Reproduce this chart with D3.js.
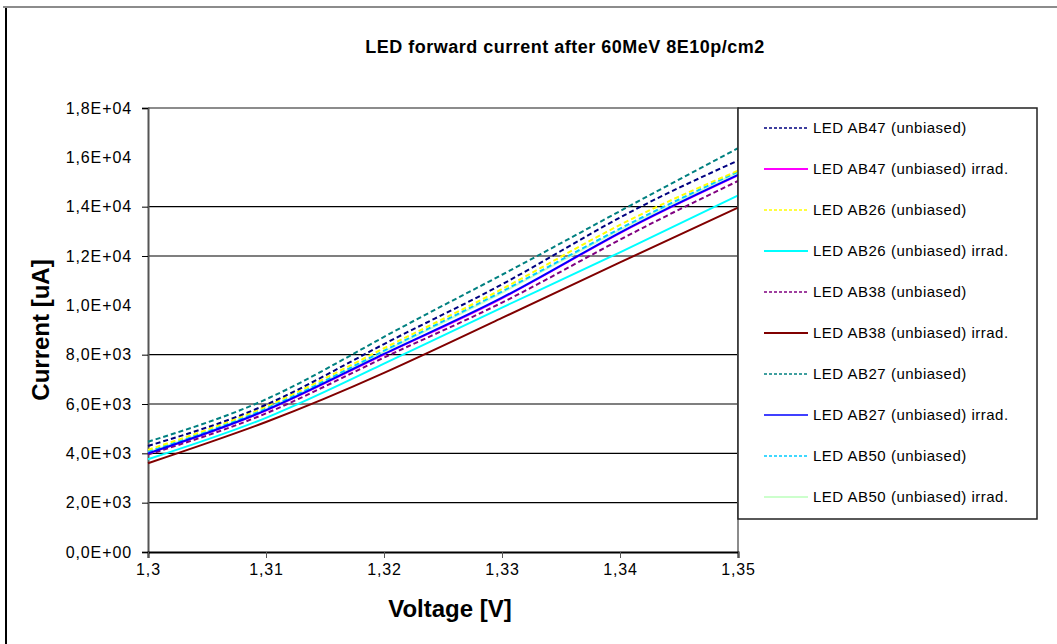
<!DOCTYPE html>
<html>
<head>
<meta charset="utf-8">
<script src="https://cdn.jsdelivr.net/npm/d3@7"></script>
<style>
  body { margin: 0; background: #fff; }
  svg { display: block; font-family: "Liberation Sans", Arial, sans-serif; }
</style>
</head>
<body>
<svg width="1057" height="644"></svg>
<script>
// voltage points (V)
var voltages = [1.30, 1.31, 1.32, 1.33, 1.34, 1.35];

// current readings (uA) per LED
var ab47 = [4300, 5970, 8430, 10850, 13560, 15870];
var ab47Irr = [3980, 5730, 8000, 10280, 12920, 15260];
var ab26 = [4140, 5900, 8260, 10660, 13260, 15460];
var ab26Irr = [3760, 5440, 7640, 9910, 12150, 14450];
var ab38 = [3950, 5620, 7880, 10110, 12660, 15040];
var ab38Irr = [3600, 5270, 7260, 9490, 11740, 13960];
var ab27 = [4000, 5750, 8030, 10310, 12950, 15290];
var ab27Unb = [4470, 6190, 8720, 11240, 13820, 16370];
var ab50 = [4070, 5820, 8160, 10560, 13110, 15420];
var ab50Irr = [4050, 5790, 8120, 10510, 13060, 15380];

var seriesNames = [
  "LED AB47 (unbiased)", "LED AB47 (unbiased) irrad.",
  "LED AB26 (unbiased)", "LED AB26 (unbiased) irrad.",
  "LED AB38 (unbiased)", "LED AB38 (unbiased) irrad.",
  "LED AB27 (unbiased)", "LED AB27 (unbiased) irrad.",
  "LED AB50 (unbiased)", "LED AB50 (unbiased) irrad."
];
var seriesValues = [ab47, ab47Irr, ab26, ab26Irr, ab38, ab38Irr, ab27Unb, ab27, ab50, ab50Irr];
var seriesColors = ["#000080", "#ff00ff", "#ffff00", "#00ffff", "#800080",
                    "#800000", "#008080", "#0000ff", "#00ccff", "#ccffcc"];
var seriesDashed = [true, false, true, false, true, false, true, false, true, false];
var seriesWidths = [2, 1.6, 2, 2, 2, 2, 2, 2, 2, 2];

var xTicks = [1.30, 1.31, 1.32, 1.33, 1.34, 1.35];
var yTicks = [0, 2000, 4000, 6000, 8000, 10000, 12000, 14000, 16000, 18000];
// grid rows that show in the picture
var gridValues = [2000, 4000, 6000, 8000, 12000, 14000];

var svg = d3.select("svg");
var plotLeft = 148, plotRight = 738, plotTop = 108, plotBottom = 552;

var x = d3.scaleLinear().domain([1.30, 1.35]).range([plotLeft, plotRight]);
var y = d3.scaleLinear().domain([0, 18000]).range([plotBottom, plotTop]);

// outer frame remains
svg.append("line").attr("x1", 6).attr("x2", 6).attr("y1", 7).attr("y2", 644)
  .attr("stroke", "#000").attr("stroke-width", 2);
svg.append("line").attr("x1", 3).attr("x2", 1057).attr("y1", 7).attr("y2", 7)
  .attr("stroke", "#8c8c8c").attr("stroke-width", 2);

// title
svg.append("text")
  .attr("x", 565).attr("y", 53)
  .attr("text-anchor", "middle")
  .attr("font-size", "18px").attr("font-weight", "bold")
  .attr("letter-spacing", "0.5px")
  .text("LED forward current after 60MeV 8E10p/cm2");

// gridlines
svg.append("g").selectAll("line")
  .data(gridValues)
  .enter().append("line")
  .attr("x1", plotLeft).attr("x2", plotRight)
  .attr("y1", function(d) { return y(d); })
  .attr("y2", function(d) { return y(d); })
  .attr("stroke", "#000").attr("stroke-width", 1.2);

// plot border (top, right)
svg.append("path")
  .attr("d", "M" + plotLeft + "," + plotTop + "H" + plotRight + "V" + plotBottom)
  .attr("fill", "none").attr("stroke", "#8c8c8c").attr("stroke-width", 2);

function sciFormat(v) {
  if (v === 0) return "0,0E+00";
  var e = Math.floor(Math.log10(v));
  var m = v / Math.pow(10, e);
  return m.toFixed(1).replace(".", ",") + "E+" + (e < 10 ? "0" + e : e);
}

var yAxis = svg.append("g")
  .attr("transform", "translate(" + plotLeft + ",0)")
  .call(d3.axisLeft(y).tickValues(yTicks).tickSize(6).tickPadding(10).tickFormat(sciFormat));
yAxis.select(".domain").attr("stroke", "#555").attr("stroke-width", 2);
yAxis.selectAll(".tick line")
  .attr("stroke", "#000")
  .style("opacity", function(d) { return (d === 16000 || d === 10000) ? 0 : 1; });
yAxis.selectAll(".tick text")
  .attr("font-size", "16px").attr("font-family", "Liberation Sans, Arial, sans-serif")
  .attr("letter-spacing", "0.9px").attr("fill", "#000");

var xAxis = svg.append("g")
  .attr("transform", "translate(0," + plotBottom + ")")
  .call(d3.axisBottom(x).tickValues(xTicks).tickSize(6).tickPadding(6)
    .tickFormat(function(d) { return String(+d.toFixed(2)).replace(".", ","); }));
xAxis.select(".domain").attr("stroke", "#000").attr("stroke-width", 2);
xAxis.selectAll(".tick line").attr("stroke", "#555");
xAxis.selectAll(".tick text")
  .attr("font-size", "16px").attr("font-family", "Liberation Sans, Arial, sans-serif")
  .attr("letter-spacing", "0.9px").attr("fill", "#000");

// axis titles
svg.append("text")
  .attr("x", 450).attr("y", 617)
  .attr("text-anchor", "middle")
  .attr("font-size", "24px").attr("font-weight", "bold")
  .text("Voltage [V]");

svg.append("text")
  .attr("transform", "translate(49,330) rotate(-90)")
  .attr("text-anchor", "middle")
  .attr("font-size", "24px").attr("font-weight", "bold")
  .text("Current [uA]");

// series lines
var line = d3.line()
  .x(function(d, i) { return x(voltages[i]); })
  .y(function(d) { return y(d); })
  .curve(d3.curveNatural);

var order = [1, 9, 8, 2, 4, 7, 0, 6, 3, 5];
svg.append("g").selectAll("path")
  .data(order)
  .enter().append("path")
  .attr("d", function(k) { return line(seriesValues[k]); })
  .attr("fill", "none")
  .attr("stroke", function(k) { return seriesColors[k]; })
  .attr("stroke-width", function(k) { return seriesWidths[k]; })
  .attr("stroke-dasharray", function(k) { return seriesDashed[k] ? "5,3" : null; });

// legend
var legend = svg.append("g");
legend.append("rect")
  .attr("x", 738).attr("y", 108).attr("width", 299).attr("height", 411)
  .attr("fill", "#fff").attr("stroke", "#222").attr("stroke-width", 1.5);

var items = legend.selectAll("g.item")
  .data(seriesNames)
  .enter().append("g")
  .attr("class", "item")
  .attr("transform", function(d, i) { return "translate(0," + (128 + i * 41) + ")"; });

items.append("line")
  .attr("x1", 764).attr("x2", 808)
  .attr("stroke", function(d, i) { return seriesColors[i]; })
  .attr("stroke-width", function(d, i) { return seriesDashed[i] ? 1.6 : (i === 7 ? 1.4 : 2); })
  .attr("stroke-dasharray", function(d, i) { return seriesDashed[i] ? "3,2" : null; });

items.append("text")
  .attr("x", 813).attr("y", 5)
  .attr("font-size", "15px")
  .attr("letter-spacing", "0.5px")
  .text(function(d) { return d; });
</script>
</body>
</html>
